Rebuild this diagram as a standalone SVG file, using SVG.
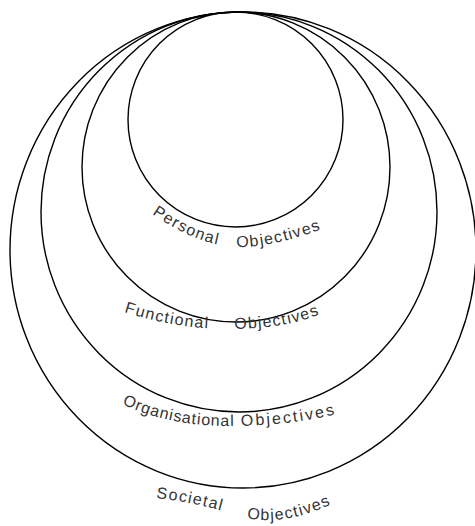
<svg xmlns="http://www.w3.org/2000/svg" xmlns:xlink="http://www.w3.org/1999/xlink" width="475" height="526" viewBox="0 0 475 526">
<style>
.ring{fill:none;stroke:#000;stroke-width:1.4}
.lbl{font-family:"Liberation Sans",Arial,sans-serif;font-size:16px;letter-spacing:1.3px;fill:#333}
</style>
<defs>
<path id="pP" d="M 152 214 Q 202 248 242 247 T 340 222"/>
<path id="pF" d="M 124 312 Q 180 330 235 329 T 325 312"/>
<path id="pO" d="M 122 404 Q 170 427 235 426 T 352 410"/>
<path id="pS" d="M 156 498 Q 200 503 240 516 T 336 502"/>
</defs>
<rect width="475" height="526" fill="#fff"/>
<g id="societal">
<ellipse class="ring" cx="243" cy="250" rx="233" ry="238"/>
<text class="lbl"><textPath xlink:href="#pS" startOffset="0">Societal</textPath></text>
<text class="lbl"><textPath xlink:href="#pS" startOffset="93">Objectives</textPath></text>
</g>
<g id="organisational">
<ellipse class="ring" cx="239" cy="212" rx="198" ry="200"/>
<text class="lbl"><textPath xlink:href="#pO" startOffset="0" style="letter-spacing:0.9px">Organisational</textPath></text>
<text class="lbl"><textPath xlink:href="#pO" startOffset="122" style="letter-spacing:2.2px">Objectives</textPath></text>
</g>
<g id="functional">
<ellipse class="ring" cx="236" cy="167" rx="154" ry="155"/>
<text class="lbl"><textPath xlink:href="#pF" startOffset="0">Functional</textPath></text>
<text class="lbl"><textPath xlink:href="#pF" startOffset="112">Objectives</textPath></text>
</g>
<g id="personal">
<ellipse class="ring" cx="235.5" cy="119.5" rx="107.5" ry="107.5"/>
<text class="lbl"><textPath xlink:href="#pP" startOffset="0">Personal</textPath></text>
<text class="lbl"><textPath xlink:href="#pP" startOffset="92">Objectives</textPath></text>
</g>
<g id="connectors"/>
</svg>
